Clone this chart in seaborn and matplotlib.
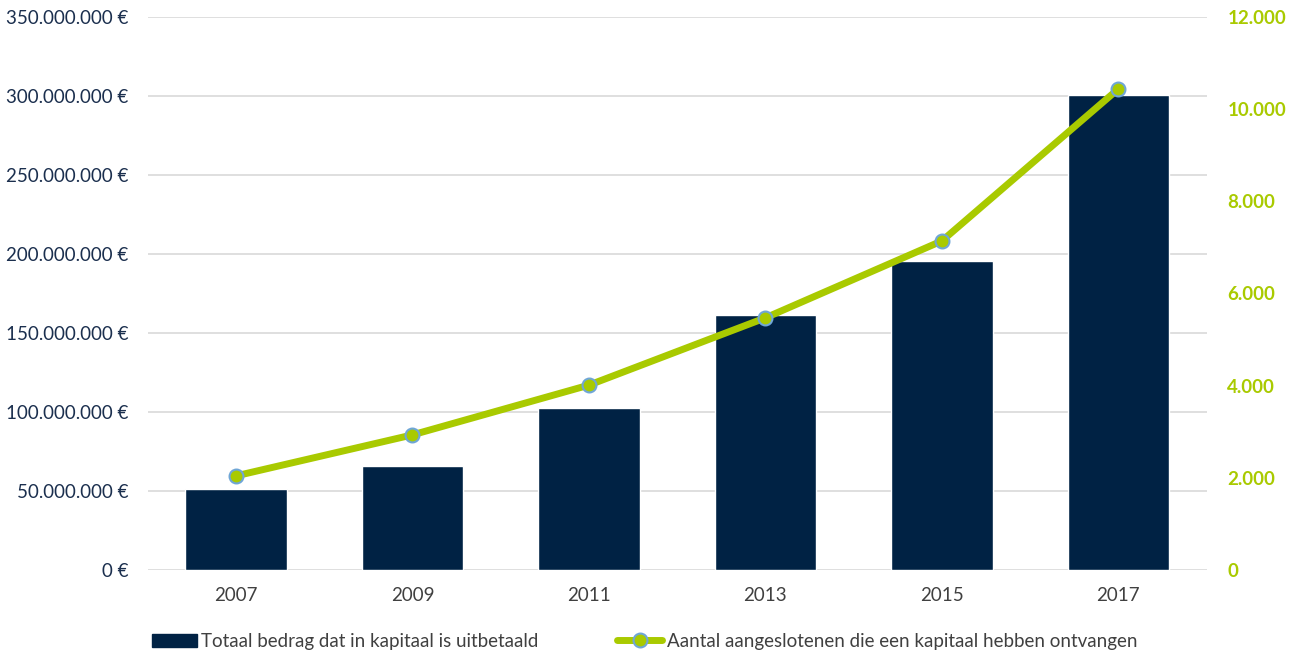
import numpy as np
import pandas as pd
import seaborn as sns
import matplotlib.pyplot as plt
from matplotlib.patches import Patch
from matplotlib.lines import Line2D
from matplotlib.ticker import FuncFormatter, MultipleLocator

years = ['2007', '2009', '2011', '2013', '2015', '2017']
bedrag = [51.5e6, 65.5e6, 102.7e6, 161.6e6, 195.5e6, 300.5e6]
aantal = [2040, 2930, 4010, 5470, 7140, 10440]

label_bar = 'Totaal bedrag dat in kapitaal is uitbetaald'
label_line = 'Aantal aangeslotenen die een kapitaal hebben ontvangen'

NAVY = '#002244'
GREEN = '#A9CA00'
EDGE = '#6FA6D6'
GRID = '#D9D9D9'
TEXT = '#1B2F4E'

sns.set_style('white')
plt.rcParams['font.family'] = ['Lato', 'DejaVu Sans']

df = pd.DataFrame({'jaar': years, 'bedrag': bedrag, 'aantal': aantal})

fig = plt.figure(figsize=(12.96, 6.55), dpi=100)
ax = fig.add_axes([0.114, 0.130, 0.817, 0.844])

sns.barplot(data=df, x='jaar', y='bedrag', color=NAVY, width=0.575,
            saturation=1, ax=ax, zorder=2)
ax.set_ylim(0, 350e6)
ax.set_xlim(-0.5, len(years) - 0.5)
ax.yaxis.set_major_locator(MultipleLocator(50e6))
ax.yaxis.set_major_formatter(FuncFormatter(
    lambda v, p: f"{int(round(v)):,}".replace(',', '.') + ' €'))
ax.grid(axis='y', color=GRID, linewidth=1.2, zorder=0)
ax.set_axisbelow(True)
for s in ax.spines.values():
    s.set_visible(False)
ax.set_xlabel('')
ax.set_ylabel('')
ax.tick_params(axis='y', length=0, pad=14, labelsize=13.5, labelcolor=TEXT)
ax.tick_params(axis='x', length=0, pad=12, labelsize=13.5, labelcolor='#404040')

ax2 = ax.twinx()
sns.lineplot(x=np.arange(len(years)), y=aantal, ax=ax2, color=GREEN,
             linewidth=5, marker='o', markersize=10, markerfacecolor=GREEN,
             markeredgecolor=EDGE, markeredgewidth=1.5, zorder=3)
ax2.set_ylim(0, 12000)
ax2.set_xlim(-0.5, len(years) - 0.5)
ax2.yaxis.set_major_locator(MultipleLocator(2000))
ax2.yaxis.set_major_formatter(FuncFormatter(
    lambda v, p: f"{int(round(v)):,}".replace(',', '.')))
for s in ax2.spines.values():
    s.set_visible(False)
ax2.tick_params(axis='y', length=0, pad=15, labelsize=13.5, labelcolor=GREEN)
for t in ax2.get_yticklabels():
    t.set_fontweight('bold')
ax2.grid(False)

handles = [
    Patch(facecolor=NAVY, edgecolor=NAVY, label=label_bar),
    Line2D([0], [0], color=GREEN, linewidth=5, marker='o', markersize=10,
           markerfacecolor=GREEN, markeredgecolor=EDGE, markeredgewidth=1.5,
           label=label_line),
]
fig.legend(handles=handles, loc='lower left', bbox_to_anchor=(0.104, -0.018),
           ncol=2, frameon=False, fontsize=13.5, handlelength=2.4,
           handletextpad=0.25, columnspacing=4.2, labelcolor='#404040')

fig.savefig('out.png', dpi=100)
